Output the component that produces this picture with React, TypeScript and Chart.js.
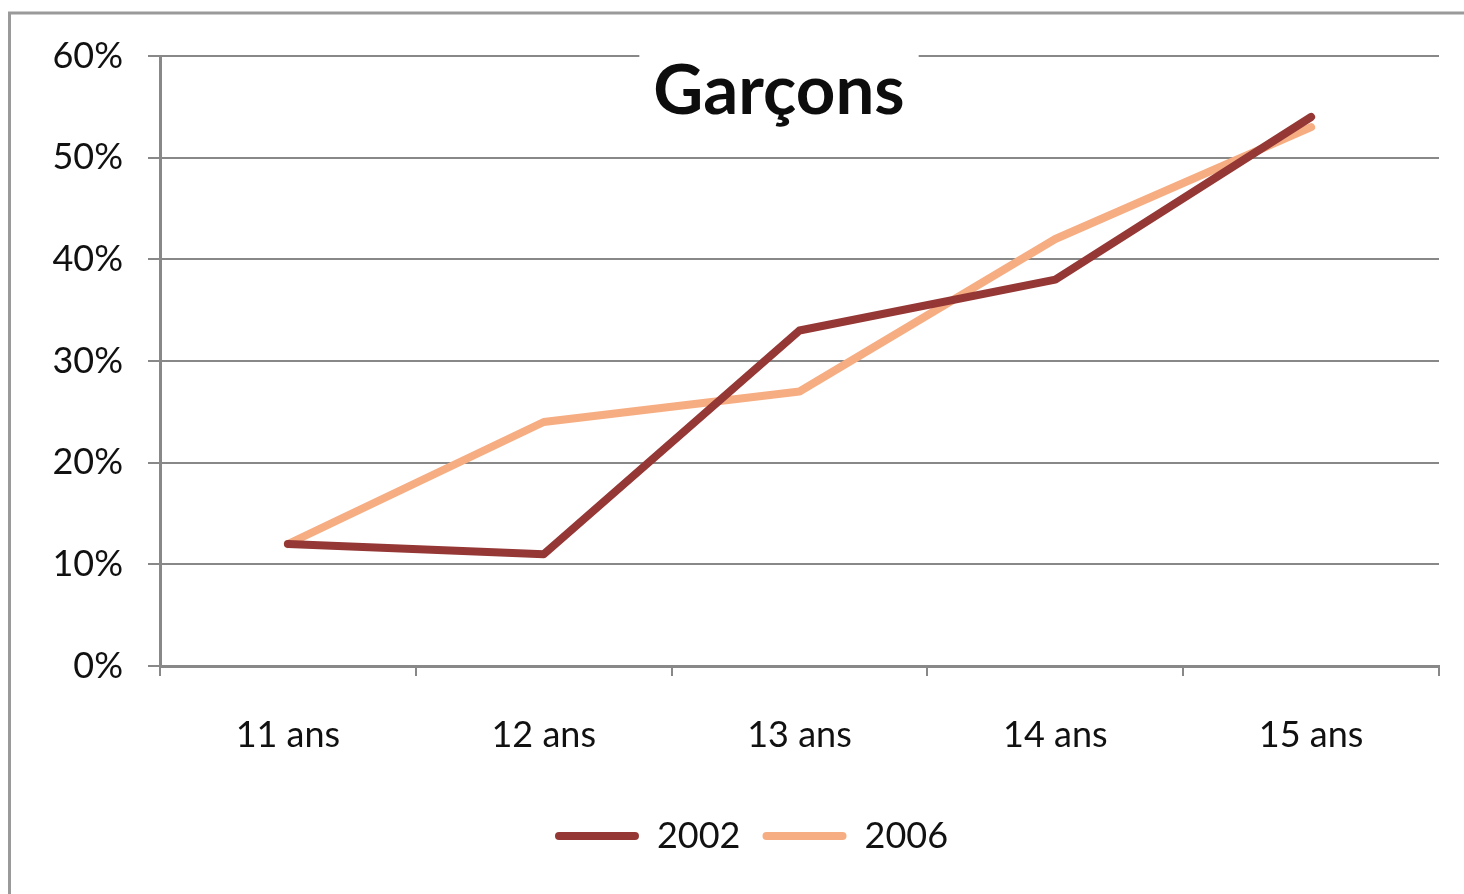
import React, { useEffect, useRef } from "react";
import { Chart, registerables } from "chart.js";

Chart.register(...registerables);

const categories = ["11 ans", "12 ans", "13 ans", "14 ans", "15 ans"];
const series2002 = [12, 11, 33, 38, 54];
const series2006 = [12, 24, 27, 42, 53];
const chartTitle = "Garçons";
const FONT = "Lato, 'Open Sans', sans-serif";

const framePlugin = {
  id: "framePlugin",
  afterLayout(chart: any) {
    const lg = chart.legend;
    if (lg) {
      lg.left += 32;
      lg.right += 32;
    }
  },
  beforeDraw(chart: any) {
    const ctx = chart.ctx;
    ctx.save();
    ctx.fillStyle = "#ffffff";
    ctx.fillRect(0, 0, chart.width, chart.height);
    ctx.strokeStyle = "#9a9a9a";
    ctx.lineWidth = 3;
    ctx.strokeRect(9.5, 13, chart.width + 50, chart.height + 50);
    ctx.restore();
  },
  afterDraw(chart: any) {
    const ctx = chart.ctx;
    ctx.save();
    ctx.font = `bold 69px ${FONT}`;
    const w = ctx.measureText(chartTitle).width;
    const cx = 779;
    ctx.fillStyle = "#ffffff";
    ctx.fillRect(cx - w / 2 - 14, 40, w + 28, 80);
    ctx.fillStyle = "#0d0d0d";
    ctx.textAlign = "center";
    ctx.textBaseline = "alphabetic";
    ctx.fillText(chartTitle, cx, 114);
    ctx.restore();
  },
};

export default function App() {
  const ref = useRef<HTMLCanvasElement>(null);
  useEffect(() => {
    document.body.style.margin = "0";
    const chart = new Chart(ref.current as HTMLCanvasElement, {
      type: "line",
      data: {
        labels: categories,
        datasets: [
          {
            label: "2002",
            data: series2002,
            borderColor: "#953735",
            backgroundColor: "#953735",
            borderWidth: 8,
            pointRadius: 0,
            borderCapStyle: "round",
            borderJoinStyle: "round",
            tension: 0,
          },
          {
            label: "2006",
            data: series2006,
            borderColor: "#F7AD82",
            backgroundColor: "#F7AD82",
            borderWidth: 8,
            pointRadius: 0,
            borderCapStyle: "round",
            borderJoinStyle: "round",
            tension: 0,
          },
        ],
      },
      options: {
        animation: false,
        responsive: false,
        layout: { padding: { top: 56, right: 25, bottom: 30, left: 0 } },
        scales: {
          x: {
            offset: true,
            grid: {
              offset: true,
              drawOnChartArea: false,
              drawTicks: true,
              tickLength: 10,
              color: "#888888",
              lineWidth: 2,
            },
            border: { display: true, color: "#888888", width: 3 },
            ticks: {
              color: "#111111",
              font: { family: FONT, size: 36 },
              padding: 38,
            },
            afterFit: (scale: any) => {
              scale.height = 130;
            },
          },
          y: {
            min: 0,
            max: 60,
            grid: { color: "#888888", lineWidth: 2, tickLength: 12 },
            border: { display: true, color: "#888888", width: 3 },
            ticks: {
              stepSize: 10,
              color: "#111111",
              font: { family: FONT, size: 36 },
              padding: 25,
              callback: (v: any) => v + "%",
            },
            afterFit: (scale: any) => {
              scale.width = 160;
            },
          },
        },
        plugins: {
          title: { display: false },
          tooltip: { enabled: false },
          legend: {
            position: "bottom",
            labels: {
              boxWidth: 84,
              boxHeight: 8,
              useBorderRadius: true,
              borderRadius: 4,
              padding: 22,
              color: "#111111",
              font: { family: FONT, size: 36 },
              generateLabels: (c: any) =>
                Chart.defaults.plugins.legend.labels
                  .generateLabels(c)
                  .map((l: any) => ({ ...l, lineWidth: 0, strokeStyle: "rgba(0,0,0,0)" })),
            },
          },
        },
      },
      plugins: [framePlugin],
    } as any);
    return () => chart.destroy();
  }, []);
  return (
    <div style={{ position: "fixed", left: 0, top: 0, width: 1464, height: 894 }}>
      <canvas ref={ref} width={1464} height={894} style={{ width: 1464, height: 894 }} />
    </div>
  );
}
